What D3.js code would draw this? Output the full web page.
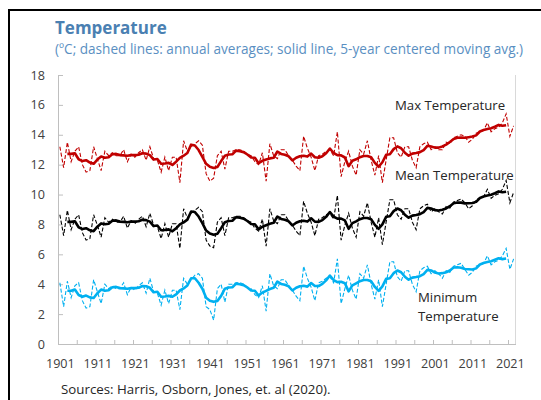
<!DOCTYPE html>
<html><head><meta charset="utf-8">
<script src="https://cdn.jsdelivr.net/npm/d3@7"></script>
<style>
body{margin:0;background:#fff;}
svg{display:block;}
text{font-family:"Open Sans","Noto Sans",sans-serif;}
</style>
</head><body>
<svg id="chart" width="541" height="400"></svg>
<script>
const years = d3.range(1901, 2023);
const xTickLabels = [1901,1911,1921,1931,1941,1951,1961,1971,1981,1991,2001,2011,2021];
const yTicks = [0,2,4,6,8,10,12,14,16,18];

const maxTemp = [
13.2,11.8,13.5,12.2,12.9,13.2,12.0,11.5,11.6,13.2,
12.4,11.6,12.9,12.6,12.8,12.6,12.6,13.0,12.2,12.7,
12.5,12.8,13.0,12.3,13.2,12.4,12.3,11.5,12.5,11.6,
12.5,12.5,10.8,13.6,12.9,13.2,13.4,13.6,13.3,11.4,
10.9,11.1,12.6,12.9,11.7,12.9,12.9,13.0,13.0,12.9,
12.7,12.6,12.2,12.0,12.8,10.9,13.4,12.6,12.4,13.0,
13.0,12.6,12.3,11.9,11.6,13.9,13.1,12.5,11.6,12.6,
12.7,12.9,13.0,12.6,14.2,11.2,12.2,12.9,11.9,11.3,
13.0,12.7,13.6,12.3,11.3,12.6,10.8,12.3,13.8,13.8,
12.8,12.5,13.2,13.2,12.3,11.8,13.2,13.4,13.5,13.0,
13.2,13.0,13.0,13.5,13.4,13.8,13.9,14.0,13.9,13.5,
13.7,14.1,14.2,14.3,14.8,14.2,14.4,14.5,14.8,15.4,
13.9,14.6];

const meanTemp = [
8.65,7.25,8.95,7.65,8.35,8.65,7.45,6.95,7.05,8.65,
7.95,7.15,8.45,8.15,8.35,8.15,8.15,8.55,7.75,8.25,
8.05,8.35,8.55,7.85,8.75,7.95,7.85,7.05,8.05,7.15,
8.05,8.05,6.40,9.05,8.45,8.75,8.95,9.15,8.85,6.95,
6.55,6.45,8.15,8.45,7.25,8.45,8.45,8.55,8.55,8.45,
8.25,8.15,7.75,7.55,8.35,6.55,9.05,8.25,8.05,8.65,
8.65,8.25,7.95,7.55,7.25,9.55,8.75,8.15,7.25,8.35,
8.45,8.65,8.75,8.35,9.95,6.95,7.95,8.75,7.75,7.15,
8.85,8.55,9.45,8.15,7.15,8.45,6.65,8.15,9.65,9.65,
8.65,8.35,9.05,9.05,8.15,7.65,9.05,9.25,9.35,8.85,
9.05,8.85,8.70,9.20,9.10,9.50,9.60,9.70,9.45,9.05,
9.25,9.65,9.75,9.85,10.35,9.75,9.95,10.05,10.35,10.95,
9.45,10.15];

const minTemp = [
4.1,2.5,4.2,3.1,3.9,4.1,2.9,2.4,2.5,4.3,
3.5,2.7,4.0,3.7,3.9,3.7,3.7,4.1,3.3,3.8,
3.6,3.9,4.1,3.4,4.4,3.5,3.4,2.6,3.6,2.7,
3.6,3.6,2.3,4.4,4.0,4.3,4.6,4.7,4.4,2.5,
2.3,1.6,3.7,4.0,2.8,4.0,4.0,4.1,4.1,4.0,
3.8,3.7,3.3,3.1,3.9,2.2,4.7,3.9,3.7,4.3,
4.3,3.9,3.6,3.2,2.9,5.2,4.4,3.8,2.9,4.1,
4.2,4.4,4.5,4.1,5.7,2.7,3.7,4.6,3.6,3.0,
4.7,4.4,5.3,4.0,3.0,4.3,2.5,4.0,5.5,5.5,
4.5,4.2,4.9,4.9,4.0,3.5,4.9,5.1,5.2,4.7,
4.9,4.7,4.4,4.9,4.8,5.2,5.3,5.4,5.0,4.6,
4.8,5.2,5.3,5.4,5.9,5.3,5.5,5.6,5.9,6.4,
5.0,5.7];

const seriesNames = ["Max Temperature","Mean Temperature","Minimum Temperature"];
const seriesColors = ["#c00000","#000000","#00b0f0"];

function movingAvg(vals){
  const out=[];
  for(let i=2;i<vals.length-2;i++){
    out.push({year:years[i], v:d3.mean(vals.slice(i-2,i+3))});
  }
  return out;
}

const svg = d3.select("#chart");
const x = d3.scaleLinear().domain([1900.5, 2022.5]).range([58, 515.5]);
const y = d3.scaleLinear().domain([0, 18]).range([344, 75]);

// outer frame
svg.append("path").attr("d","M9,401V10H545").attr("fill","none").attr("stroke","#000").attr("stroke-width",2);

// title
svg.append("text").attr("x",55).attr("y",34).attr("font-size",17).attr("font-weight",700)
  .attr("fill","#4a80b2").text("Temperature");
svg.append("text").attr("x",55).attr("y",53.5).attr("font-size",13.6)
  .attr("fill","#5a8fc2").text("(ºC; dashed lines: annual averages; solid line, 5-year centered moving avg.)");

// right border of plot area
svg.append("line").attr("x1",x(2022.5)).attr("x2",x(2022.5)).attr("y1",y(18)).attr("y2",y(0))
  .attr("stroke","#d9d9d9").attr("stroke-width",1);

// y axis
const gy = svg.append("g").attr("transform",`translate(${x(1900.5)},0)`)
  .call(d3.axisLeft(y).tickValues(yTicks).tickSize(-5).tickPadding(13).tickFormat(d3.format("d")));
gy.select(".domain").attr("stroke","#bfbfbf");
gy.selectAll(".tick line").attr("stroke","#bfbfbf");
gy.selectAll(".tick text").attr("font-size",12.6).attr("fill","#404040").attr("font-family",'"Open Sans","Noto Sans",sans-serif');

// x axis ticks
const gx = svg.append("g").attr("transform",`translate(0,${y(0)})`)
  .call(d3.axisBottom(x).tickValues(d3.range(1900.5, 2022.6, 5)).tickSize(-4).tickSizeOuter(0).tickFormat(""));
gx.select(".domain").attr("stroke","#bfbfbf");
gx.selectAll(".tick line").attr("stroke","#bfbfbf");
// x labels
const gxl = svg.append("g").attr("transform",`translate(0,${y(0)})`)
  .call(d3.axisBottom(x).tickValues(xTickLabels).tickSize(0).tickPadding(15).tickFormat(d3.format("d")));
gxl.select(".domain").remove();
gxl.selectAll(".tick text").attr("font-size",12.6).attr("fill","#404040").attr("font-family",'"Open Sans","Noto Sans",sans-serif');

// lines
const annualLine = d3.line().x((d,i)=>x(years[i])).y(d=>y(d));
const maLine = d3.line().x(d=>x(d.year)).y(d=>y(d.v));
const allSeries = [maxTemp, meanTemp, minTemp];
allSeries.forEach((vals,k)=>{
  svg.append("path").datum(vals).attr("d",annualLine).attr("fill","none")
    .attr("stroke",seriesColors[k]).attr("stroke-width",1.1).attr("stroke-dasharray","4,2");
});
allSeries.forEach((vals,k)=>{
  svg.append("path").datum(movingAvg(vals)).attr("d",maLine).attr("fill","none")
    .attr("stroke",seriesColors[k]).attr("stroke-width",2.6).attr("stroke-linejoin","round");
});

// series labels
const lab = svg.append("g").attr("font-size",13.2).attr("fill","#262626");
lab.append("text").attr("x",395).attr("y",110).text(seriesNames[0]);
lab.append("text").attr("x",395).attr("y",180).text(seriesNames[1]);
lab.append("text").attr("x",418).attr("y",302).text("Minimum");
lab.append("text").attr("x",418).attr("y",321).text("Temperature");

// source
svg.append("text").attr("x",61).attr("y",394).attr("font-size",13.3).attr("fill","#262626")
  .text("Sources: Harris, Osborn, Jones, et. al (2020).");
</script>
</body></html>
